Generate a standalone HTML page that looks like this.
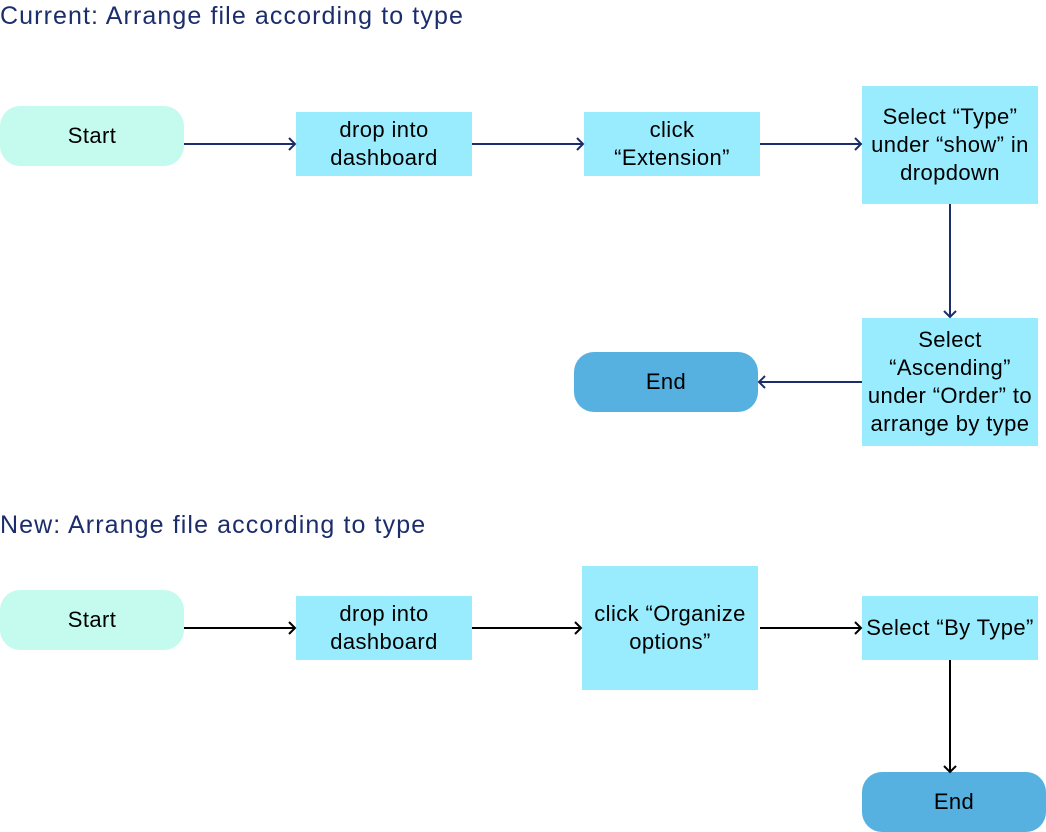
<!DOCTYPE html>
<html><head><meta charset="utf-8"><style>
body{margin:0;width:1046px;height:832px;background:#fff;position:relative;overflow:hidden;font-family:"Liberation Sans",sans-serif;}
.t{position:absolute;left:0;font-size:25px;color:#1b2d6b;white-space:nowrap;letter-spacing:1.1px}
.n{position:absolute;display:flex;align-items:center;justify-content:center;text-align:center;font-size:22px;line-height:28px;color:#000;letter-spacing:0.4px;white-space:nowrap}
.b{background:#99ecfd}
.s{background:#c5fbee;border-radius:20px}
.e{background:#56b0e0;border-radius:20px}
svg{position:absolute;left:0;top:0}
</style></head><body>
<div class="t" style="top:2px">Current: Arrange file according to type</div>
<div class="t" style="top:511px">New: Arrange file according to type</div>

<div class="n s" style="left:0;top:106px;width:184px;height:60px">Start</div>
<div class="n b" style="left:296px;top:112px;width:176px;height:64px">drop into<br>dashboard</div>
<div class="n b" style="left:584px;top:112px;width:176px;height:64px">click<br>“Extension”</div>
<div class="n b" style="left:862px;top:86px;width:176px;height:118px">Select “Type”<br>under “show” in<br>dropdown</div>
<div class="n b" style="left:862px;top:318px;width:176px;height:128px">Select<br>“Ascending”<br>under “Order” to<br>arrange by type</div>
<div class="n e" style="left:574px;top:352px;width:184px;height:60px">End</div>

<div class="n s" style="left:0;top:590px;width:184px;height:60px">Start</div>
<div class="n b" style="left:296px;top:596px;width:176px;height:64px">drop into<br>dashboard</div>
<div class="n b" style="left:582px;top:566px;width:176px;height:124px">click “Organize<br>options”</div>
<div class="n b" style="left:862px;top:596px;width:176px;height:64px">Select “By Type”</div>
<div class="n e" style="left:862px;top:772px;width:184px;height:60px">End</div>

<svg width="1046" height="832" fill="none" stroke-width="2">
<g stroke="#1b2d6b">
<path d="M184 144H295M289 138l6 6-6 6"/>
<path d="M472 144H583M577 138l6 6-6 6"/>
<path d="M760 144H861M855 138l6 6-6 6"/>
<path d="M950 204V317M944 311l6 6 6-6"/>
<path d="M862 382H759M765 376l-6 6 6 6"/>
</g>
<g stroke="#000">
<path d="M184 628H295M289 622l6 6-6 6"/>
<path d="M472 628H581M575 622l6 6-6 6"/>
<path d="M760 628H861M855 622l6 6-6 6"/>
<path d="M950 660V772M944 766l6 6 6-6"/>
</g>
</svg>
</body></html>
